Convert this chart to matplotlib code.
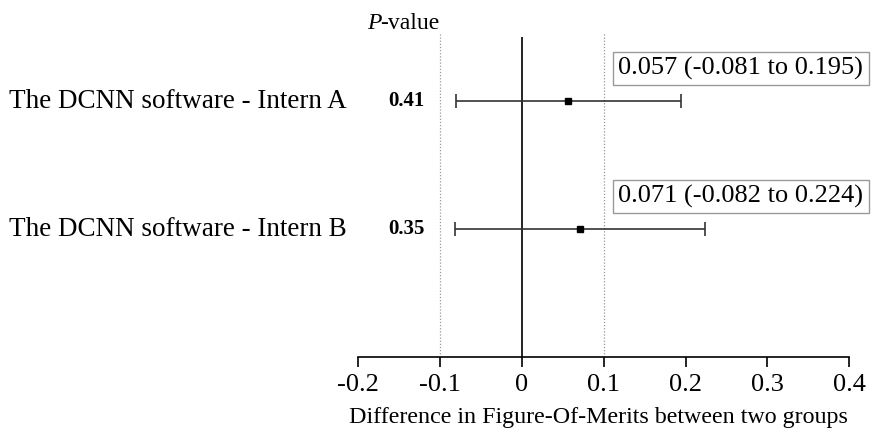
import matplotlib

matplotlib.use("Agg")
import matplotlib.pyplot as plt

plt.rcParams["font.family"] = ["Liberation Serif", "DejaVu Serif"]

# Data
comparisons = ["The DCNN software - Intern A", "The DCNN software - Intern B"]
p_values = ["0.41", "0.35"]
estimates = [0.057, 0.071]
ci_low = [-0.081, -0.082]
ci_high = [0.195, 0.224]
x_ticks = [-0.2, -0.1, 0, 0.1, 0.2, 0.3, 0.4]
x_tick_labels = ["-0.2", "-0.1", "0", "0.1", "0.2", "0.3", "0.4"]
row_y = [4, 2]

fig = plt.figure(figsize=(8.93, 4.48), dpi=100)
ax = fig.add_axes([0.401, 0.203, 0.55, 0.714])

ax.set_xlim(-0.2, 0.4)
ax.set_ylim(0, 5)

# Reference lines
ax.axvline(0, color="black", linewidth=1.2)
for xv in (-0.1, 0.1):
    ax.axvline(xv, ymax=1.012, color="#999999", linewidth=0.9, linestyle=(0, (1, 1.5)), clip_on=False)

# Estimates with confidence intervals
for est, lo, hi, y in zip(estimates, ci_low, ci_high, row_y):
    ax.errorbar(
        est, y,
        xerr=[[est - lo], [hi - est]],
        fmt="s", color="black", markersize=5,
        ecolor="#333333", elinewidth=1.2, capsize=4.7, capthick=1.2,
    )
    ax.text(
        0.118, y + 0.33, f"{est:.3f} ({lo:.3f} to {hi:.3f})",
        fontsize=19, ha="left", va="bottom", clip_on=False,
        bbox=dict(boxstyle="square,pad=0.2", facecolor="white", edgecolor="#999999", linewidth=1),
    )

# Row labels and P-values
for name, p, y in zip(comparisons, p_values, row_y):
    ax.text(-0.627, y, name, fontsize=19.5, ha="left", va="center", clip_on=False)
    ax.text(-0.141, y, p, fontsize=15, fontweight="bold", ha="center", va="center")
fig.text(0.411, 0.948, "P", fontsize=17, fontstyle="italic", ha="left", va="center")
fig.text(0.426, 0.948, "-value", fontsize=17, ha="left", va="center")

ax.set_xticks(x_ticks)
ax.set_xticklabels(x_tick_labels, fontsize=19)
ax.set_yticks([])
for side in ("left", "right", "top"):
    ax.spines[side].set_visible(False)
ax.spines["bottom"].set_linewidth(1.2)
ax.tick_params(axis="x", direction="out", length=7, width=1.2, pad=5)

fig.text(0.67, 0.067, "Difference in Figure-Of-Merits between two groups", fontsize=17.3, ha="center", va="center")

fig.savefig("out.png", dpi=100)
